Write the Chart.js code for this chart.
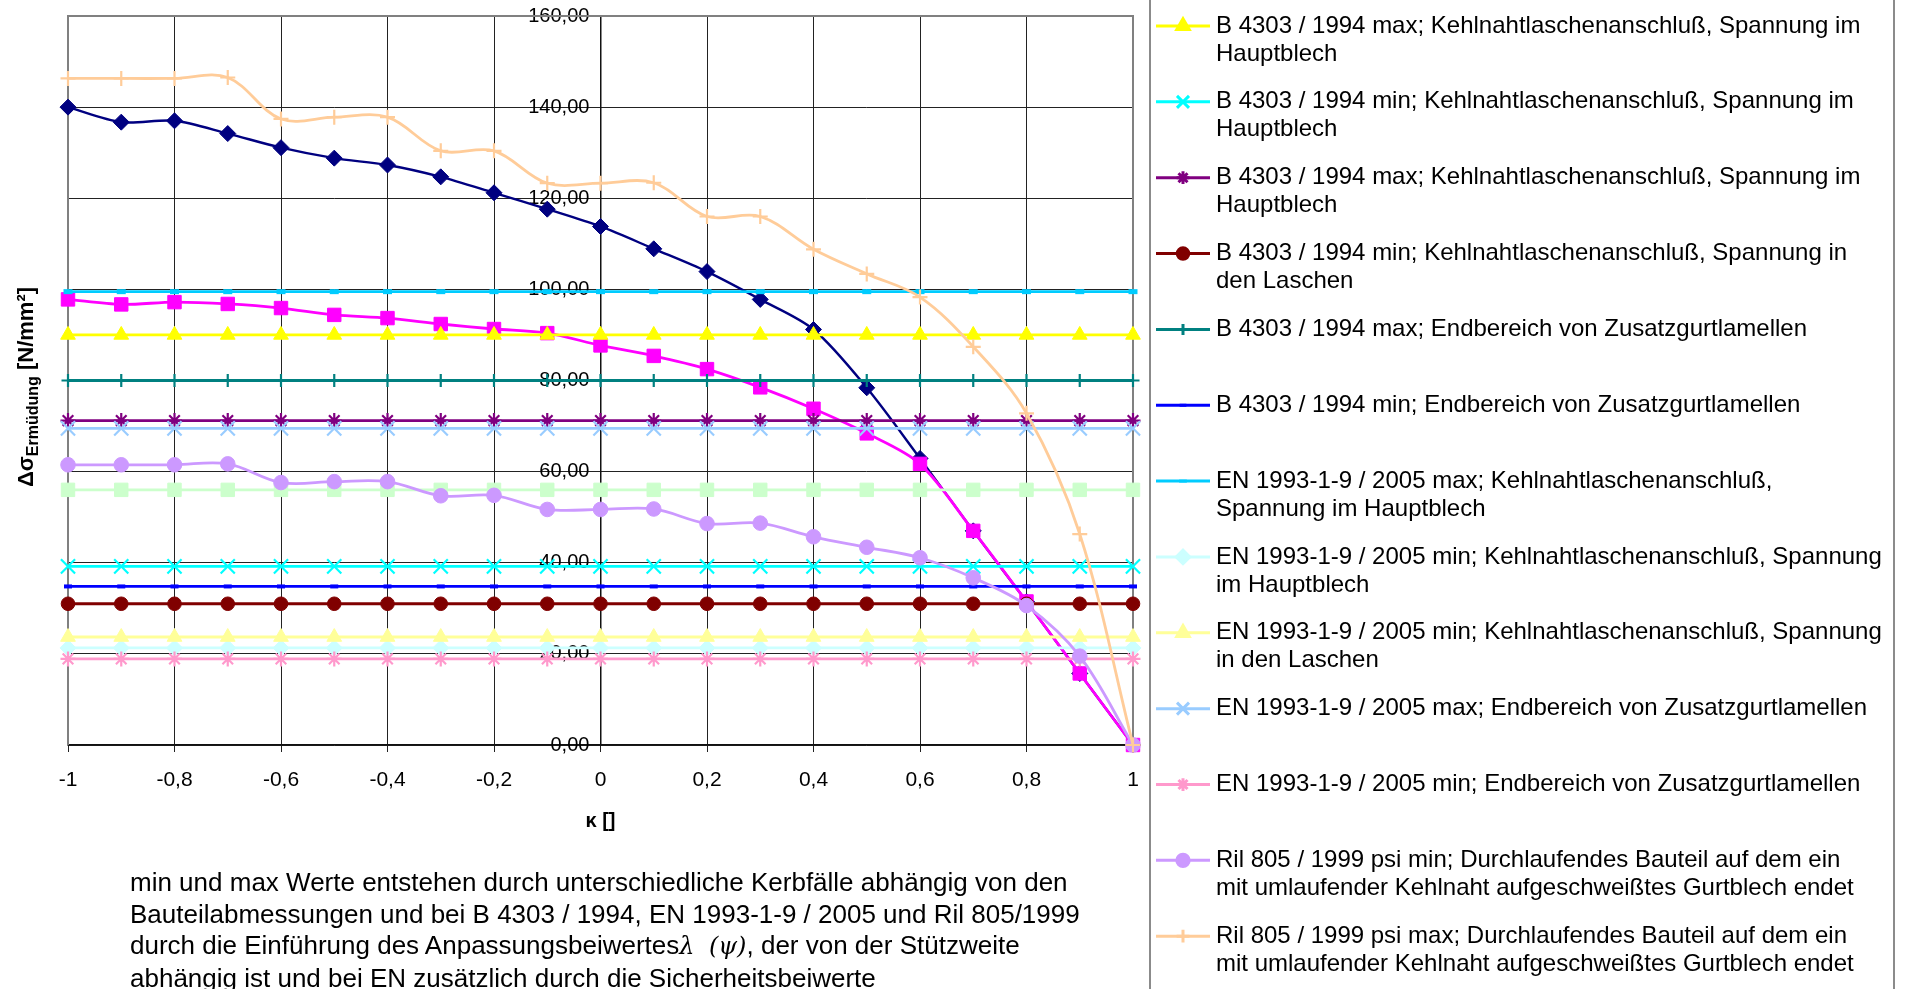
<!DOCTYPE html>
<html>
<head>
<meta charset="utf-8">
<script src="https://cdn.jsdelivr.net/npm/chart.js@4/dist/chart.umd.min.js"></script>
<style>
    html, body { margin: 0; padding: 0; background: #fff; overflow: hidden; }
    #wrap { position: relative; width: 1912px; height: 989px; overflow: hidden; }
    #chart { position: absolute; left: 0; top: 0; }
    #note {
        position: absolute; left: 130px; top: 867px;
        font: 26px "Liberation Sans", Arial, sans-serif;
        line-height: 31.7px; white-space: nowrap; color: #000;
    }
    #note .m { font-family: "DejaVu Serif", serif; font-style: italic; font-size: 24px; }
</style>
</head>
<body>
<div id="wrap">
    <canvas id="chart" width="1912" height="989"></canvas>
    <div id="note">
        min und max Werte entstehen durch unterschiedliche Kerbfälle abhängig von den<br>
        Bauteilabmessungen und bei B 4303 / 1994, EN 1993-1-9 / 2005 und Ril 805/1999<br>
        durch die Einführung des Anpassungsbeiwertes<span class="m">λ</span>&nbsp;&nbsp;<span class="m">(ψ)</span>, der von der Stützweite<br>
        abhängig ist und bei EN zusätzlich durch die Sicherheitsbeiwerte
    </div>
</div>
<script>
// ================= DATEN =================

const kappa = [-1, -0.9, -0.8, -0.7, -0.6, -0.5, -0.4, -0.3, -0.2, -0.1, 0,
               0.1, 0.2, 0.3, 0.4, 0.5, 0.6, 0.7, 0.8, 0.9, 1];

// Reihen ohne sichtbaren Legendeneintrag (oberhalb des Ausschnitts)
const reihe1 = [140.0, 136.7, 137.0, 134.2, 131.1, 128.8, 127.3, 124.7, 121.2, 117.6, 113.8,
                108.9, 103.9, 97.8, 91.2, 78.4, 62.9, 47.0, 31.5, 15.7, 0];
const reihe2 = [97.8, 96.7, 97.2, 96.8, 95.9, 94.4, 93.7, 92.4, 91.3, 90.4, 87.7,
                85.4, 82.5, 78.5, 73.8, 68.4, 61.7, 47.0, 31.5, 15.7, 0];
const reihe3 = [56, 56, 56, 56, 56, 56, 56, 56, 56, 56, 56,
                56, 56, 56, 56, 56, 56, 56, 56, 56, 56];

const b4303MaxHaupt = [90, 90, 90, 90, 90, 90, 90, 90, 90, 90, 90,
                       90, 90, 90, 90, 90, 90, 90, 90, 90, 90];
const b4303MinHaupt = [39.2, 39.2, 39.2, 39.2, 39.2, 39.2, 39.2, 39.2, 39.2, 39.2, 39.2,
                       39.2, 39.2, 39.2, 39.2, 39.2, 39.2, 39.2, 39.2, 39.2, 39.2];
const b4303MaxHaupt2 = [71.2, 71.2, 71.2, 71.2, 71.2, 71.2, 71.2, 71.2, 71.2, 71.2, 71.2,
                        71.2, 71.2, 71.2, 71.2, 71.2, 71.2, 71.2, 71.2, 71.2, 71.2];
const b4303MinLaschen = [31, 31, 31, 31, 31, 31, 31, 31, 31, 31, 31,
                         31, 31, 31, 31, 31, 31, 31, 31, 31, 31];
const b4303MaxEnde = [80, 80, 80, 80, 80, 80, 80, 80, 80, 80, 80,
                      80, 80, 80, 80, 80, 80, 80, 80, 80, 80];
const b4303MinEnde = [34.8, 34.8, 34.8, 34.8, 34.8, 34.8, 34.8, 34.8, 34.8, 34.8, 34.8,
                      34.8, 34.8, 34.8, 34.8, 34.8, 34.8, 34.8, 34.8, 34.8, 34.8];
const enMaxHaupt = [99.5, 99.5, 99.5, 99.5, 99.5, 99.5, 99.5, 99.5, 99.5, 99.5, 99.5,
                    99.5, 99.5, 99.5, 99.5, 99.5, 99.5, 99.5, 99.5, 99.5, 99.5];
const enMinHaupt = [21.3, 21.3, 21.3, 21.3, 21.3, 21.3, 21.3, 21.3, 21.3, 21.3, 21.3,
                    21.3, 21.3, 21.3, 21.3, 21.3, 21.3, 21.3, 21.3, 21.3, 21.3];
const enMinLaschen = [23.7, 23.7, 23.7, 23.7, 23.7, 23.7, 23.7, 23.7, 23.7, 23.7, 23.7,
                      23.7, 23.7, 23.7, 23.7, 23.7, 23.7, 23.7, 23.7, 23.7, 23.7];
const enMaxEnde = [69.5, 69.5, 69.5, 69.5, 69.5, 69.5, 69.5, 69.5, 69.5, 69.5, 69.5,
                   69.5, 69.5, 69.5, 69.5, 69.5, 69.5, 69.5, 69.5, 69.5, 69.5];
const enMinEnde = [18.9, 18.9, 18.9, 18.9, 18.9, 18.9, 18.9, 18.9, 18.9, 18.9, 18.9,
                   18.9, 18.9, 18.9, 18.9, 18.9, 18.9, 18.9, 18.9, 18.9, 18.9];
const rilMin = [61.5, 61.5, 61.5, 61.7, 57.6, 57.8, 57.8, 54.7, 54.8, 51.7, 51.7,
                51.8, 48.6, 48.7, 45.7, 43.4, 41.1, 36.7, 30.6, 19.5, 0];
const rilMax = [146.3, 146.3, 146.3, 146.5, 137.4, 137.8, 137.8, 130.4, 130.4, 123.3, 123.3,
                123.4, 116.0, 116.0, 108.8, 103.4, 98.3, 87.4, 72.8, 46.3, 0];

const yTicks = [0, 20, 40, 60, 80, 100, 120, 140, 160];

const legendTexts = [
    ["B 4303 / 1994 max; Kehlnahtlaschenanschluß, Spannung im", "Hauptblech"],
    ["B 4303 / 1994 min; Kehlnahtlaschenanschluß, Spannung im", "Hauptblech"],
    ["B 4303 / 1994 max; Kehlnahtlaschenanschluß, Spannung im", "Hauptblech"],
    ["B 4303 / 1994 min; Kehlnahtlaschenanschluß, Spannung in", "den Laschen"],
    ["B 4303 / 1994 max; Endbereich von Zusatzgurtlamellen"],
    ["B 4303 / 1994 min; Endbereich von Zusatzgurtlamellen"],
    ["EN 1993-1-9 / 2005 max; Kehlnahtlaschenanschluß,", "Spannung im Hauptblech"],
    ["EN 1993-1-9 / 2005 min; Kehlnahtlaschenanschluß, Spannung", "im Hauptblech"],
    ["EN 1993-1-9 / 2005 min; Kehlnahtlaschenanschluß, Spannung", "in den Laschen"],
    ["EN 1993-1-9 / 2005 max; Endbereich von Zusatzgurtlamellen"],
    ["EN 1993-1-9 / 2005 min; Endbereich von Zusatzgurtlamellen"],
    ["Ril 805 / 1999 psi min; Durchlaufendes Bauteil auf dem ein", "mit umlaufender Kehlnaht aufgeschweißtes Gurtblech endet"],
    ["Ril 805 / 1999 psi max; Durchlaufendes Bauteil auf dem ein", "mit umlaufender Kehlnaht aufgeschweißtes Gurtblech endet"]
];

/* ===== REIHEN ===== */
function reihe(label, werte, farbe, stil, radius, extra) {
    return Object.assign({
        label: label,
        data: werte.map((v, i) => ({ x: kappa[i], y: v })),
        borderColor: farbe,
        backgroundColor: farbe,
        pointBorderColor: farbe,
        pointBackgroundColor: farbe,
        pointStyle: stil,
        pointRadius: radius,
        pointBorderWidth: 1,
        borderWidth: 2.8,
        tension: 0,
        clip: false,
        fill: false
    }, extra || {});
}

const datasets = [
    reihe("", reihe1, "#000080", "rectRot", 8, { tension: 0.3, borderWidth: 2.4 }),
    reihe("", reihe2, "#FF00FF", "rect", 9.5, { tension: 0.3 }),
    reihe("", reihe3, "#CCFFCC", "rect", 9.5),
    reihe(legendTexts[0].join(" "), b4303MaxHaupt, "#FFFF00", "triangle", 8.5),
    reihe(legendTexts[1].join(" "), b4303MinHaupt, "#00FFFF", "crossRot", 10, { pointBorderWidth: 2.2 }),
    reihe(legendTexts[2].join(" "), b4303MaxHaupt2, "#800080", "star", 7.5, { pointBorderWidth: 2.2 }),
    reihe(legendTexts[3].join(" "), b4303MinLaschen, "#800000", "circle", 6.8),
    reihe(legendTexts[4].join(" "), b4303MaxEnde, "#008080", "cross", 6.5, { pointBorderWidth: 2.2 }),
    reihe(legendTexts[5].join(" "), b4303MinEnde, "#0000FF", "line", 4, { pointBorderWidth: 4 }),
    reihe(legendTexts[6].join(" "), enMaxHaupt, "#00CCFF", "line", 4.5, { pointBorderWidth: 5 }),
    reihe(legendTexts[7].join(" "), enMinHaupt, "#CCFFFF", "rectRot", 8),
    reihe(legendTexts[8].join(" "), enMinLaschen, "#FFFF99", "triangle", 8.5),
    reihe(legendTexts[9].join(" "), enMaxEnde, "#99CCFF", "crossRot", 10, { pointBorderWidth: 2.2 }),
    reihe(legendTexts[10].join(" "), enMinEnde, "#FF99CC", "star", 7.5, { pointBorderWidth: 2.2 }),
    reihe(legendTexts[11].join(" "), rilMin, "#CC99FF", "circle", 7.3, { tension: 0.35 }),
    reihe(legendTexts[12].join(" "), rilMax, "#FFCC99", "cross", 7.5, { tension: 0.35, pointBorderWidth: 2.2 })
];
// spätere Reihen oben zeichnen (wie Excel)
datasets.forEach((d, i) => { d.order = -i; });

/* ===== PLUGINS ===== */
const rahmen = {
    id: "rahmen",
    beforeDatasetsDraw(chart) {
        const { ctx, chartArea: a } = chart;
        ctx.save();
        ctx.strokeStyle = "#808080";
        ctx.lineWidth = 2;
        ctx.beginPath();
        ctx.moveTo(a.left, a.bottom);
        ctx.lineTo(a.left, a.top);
        ctx.lineTo(a.right, a.top);
        ctx.lineTo(a.right, a.bottom);
        ctx.stroke();
        ctx.restore();
    }
};

const yTitel = {
    id: "yTitel",
    afterDraw(chart) {
        const ctx = chart.ctx;
        const gross = 'bold 22px "Liberation Sans", Arial, sans-serif';
        const klein = 'bold 16px "Liberation Sans", Arial, sans-serif';
        const teile = [["Δσ", gross, 0], ["Ermüdung", klein, 5], [" [N/mm²]", gross, 0]];
        ctx.save();
        let breite = 0;
        teile.forEach(t => { ctx.font = t[1]; breite += ctx.measureText(t[0]).width; });
        ctx.translate(0, 387);
        ctx.rotate(-Math.PI / 2);
        ctx.fillStyle = "#000";
        ctx.textBaseline = "alphabetic";
        let u = -breite / 2;
        teile.forEach(t => {
            ctx.font = t[1];
            ctx.fillText(t[0], u, 33 + t[2]);
            u += ctx.measureText(t[0]).width;
        });
        ctx.restore();
    }
};

const legende = {
    id: "legende",
    afterDraw(chart) {
        const ctx = chart.ctx;
        ctx.save();
        ctx.strokeStyle = "#666";
        ctx.lineWidth = 1.5;
        ctx.beginPath();
        ctx.moveTo(1150, 0); ctx.lineTo(1150, 989);
        ctx.moveTo(1894, 0); ctx.lineTo(1894, 989);
        ctx.stroke();

        ctx.font = '24px "Liberation Sans", Arial, sans-serif';
        ctx.textBaseline = "middle";
        legendTexts.forEach((zeilen, i) => {
            const ds = chart.data.datasets[i + 3];
            const y = 26 + i * 75.85;
            ctx.strokeStyle = ds.borderColor;
            ctx.lineWidth = 3;
            ctx.beginPath();
            ctx.moveTo(1156, y); ctx.lineTo(1210, y);
            ctx.stroke();
            ctx.fillStyle = ds.borderColor;
            Chart.helpers.drawPoint(ctx, {
                pointStyle: ds.pointStyle, radius: ds.pointRadius * 0.85,
                borderWidth: ds.pointBorderWidth, rotation: 0
            }, 1183, y);
            ctx.fillStyle = "#000";
            zeilen.forEach((z, k) => ctx.fillText(z, 1216, y + k * 28));
        });
        ctx.restore();
    }
};

/* ===== GRÁFICO ===== */
Chart.defaults.font.family = '"Liberation Sans", Arial, sans-serif';

const komma = v => String(Math.round(v * 10) / 10).replace(".", ",");

new Chart(document.getElementById("chart"), {
    type: "line",
    data: { datasets: datasets },
    options: {
        responsive: false,
        animation: false,
        devicePixelRatio: 1,
        events: [],
        layout: { padding: { left: 68, right: 779, top: 16, bottom: 144 } },
        plugins: { legend: { display: false }, tooltip: { enabled: false } },
        scales: {
            x: {
                type: "linear",
                min: -1, max: 1,
                afterBuildTicks: s => { s.ticks = kappa.filter((k, i) => i % 2 === 0).map(v => ({ value: v })); },
                ticks: { autoSkip: false, maxRotation: 0, padding: 16, color: "#000",
                         font: { size: 21 }, callback: v => komma(v) },
                grid: { color: "#222", lineWidth: 1, tickLength: 7, tickColor: "#222" },
                border: { color: "#111", width: 1.5 },
                title: { display: true, text: "κ []", color: "#000",
                         font: { size: 20, weight: "bold" }, padding: { top: 0, bottom: 12 } },
                afterFit: s => { s.height = 100; }
            },
            y: {
                min: 0, max: 160,
                position: { x: 0 },
                afterBuildTicks: s => { s.ticks = yTicks.map(v => ({ value: v })); },
                // Abstand links der Achse über angehängte Leerzeichen
                ticks: { padding: 0, color: "#000", font: { size: 20 },
                         callback: v => v.toFixed(2).replace(".", ",") + "  " },
                grid: { color: "#222", lineWidth: 1, tickLength: 8, tickColor: "#222" },
                border: { color: "#111", width: 1.5 }
            }
        }
    },
    plugins: [rahmen, yTitel, legende]
});
</script>
</body>
</html>
